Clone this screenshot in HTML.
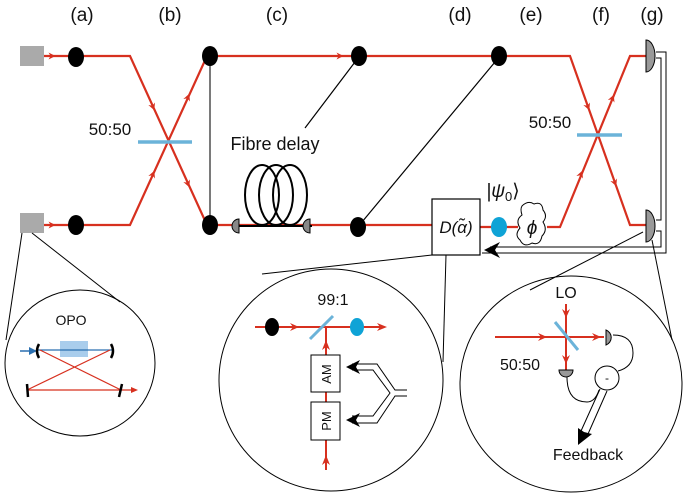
<!DOCTYPE html><html><head><style>body{margin:0;background:#fff}svg{display:block}text{font-family:"Liberation Sans",sans-serif;fill:#111}</style></head><body>
<svg width="685" height="493" viewBox="0 0 685 493" xmlns="http://www.w3.org/2000/svg">
<defs><marker id="ar" viewBox="0 0 10 10" refX="5" refY="5" markerWidth="7" markerHeight="7" orient="auto" markerUnits="userSpaceOnUse"><path d="M0,0 L10,5 L0,10 L3,5z" fill="#d7301f"/></marker></defs>
<g font-size="19" text-anchor="middle"><text x="82" y="21">(a)</text><text x="170" y="21">(b)</text><text x="277" y="21">(c)</text><text x="460" y="21">(d)</text><text x="531" y="21">(e)</text><text x="601" y="21">(f)</text><text x="652" y="21">(g)</text></g>
<rect x="20" y="46" width="24" height="20" fill="#aaa"/><rect x="20" y="213" width="24" height="20" fill="#aaa"/>
<g stroke="#d7301f" stroke-width="2.2" fill="none">
<path d="M44,56 H130 L207,225 H432"/><path d="M44,225 H130 L207,56 H570 L630,225 H646"/>
<path d="M480,227 H518 M547,227 H560 L630,56 H646"/>
</g>
<g stroke="none" fill="none" stroke-width="1">
<path d="M44,56 L52,56" marker-end="url(#ar)"/><path d="M44,225 L52,225" marker-end="url(#ar)"/>
<path d="M151,102 L153,107" marker-end="url(#ar)"/><path d="M186,179 L188,184" marker-end="url(#ar)"/>
<path d="M151,179 L153,174" marker-end="url(#ar)"/><path d="M186,102 L188,97" marker-end="url(#ar)"/>
<path d="M336,56 L340,56" marker-end="url(#ar)"/>
<path d="M586,102 L588,107" marker-end="url(#ar)"/><path d="M613,178 L615,183" marker-end="url(#ar)"/>
<path d="M579,179 L581,174" marker-end="url(#ar)"/><path d="M610.5,103 L612.5,98" marker-end="url(#ar)"/>
</g>
<line x1="138" y1="142" x2="192" y2="142" stroke="#6bb3d9" stroke-width="3.5"/>
<line x1="577" y1="135" x2="622" y2="135" stroke="#6bb3d9" stroke-width="3.5"/>
<text x="110" y="135" font-size="17" text-anchor="middle">50:50</text>
<text x="550" y="128" font-size="17" text-anchor="middle">50:50</text>
<line x1="210" y1="56" x2="210" y2="225" stroke="#333" stroke-width="1.3"/>
<g fill="#000"><ellipse cx="76" cy="57" rx="8" ry="10"/><ellipse cx="76" cy="225" rx="8" ry="10"/><ellipse cx="210" cy="56" rx="8" ry="10"/><ellipse cx="210" cy="225" rx="8" ry="10"/><ellipse cx="359" cy="56" rx="8" ry="10"/><ellipse cx="499" cy="56" rx="8" ry="10"/><ellipse cx="358" cy="227" rx="8" ry="10"/></g>
<line x1="355" y1="62" x2="305" y2="128" stroke="#000" stroke-width="1.2"/>
<line x1="495" y1="62" x2="362" y2="222" stroke="#000" stroke-width="1.2"/>
<text x="275" y="150" font-size="18" text-anchor="middle">Fibre delay</text>
<g fill="none" stroke="#000" stroke-width="2"><ellipse cx="262" cy="195" rx="17" ry="30"/><ellipse cx="276" cy="195" rx="17" ry="30"/><ellipse cx="290" cy="195" rx="17" ry="30"/></g>
<line x1="235" y1="226" x2="312" y2="226" stroke="#000" stroke-width="2"/>
<path d="M239,219 A7,7 0 0 0 239,233 Z" fill="#888" stroke="#000"/><path d="M310,219 A7,7 0 0 0 310,233 Z" fill="#888" stroke="#000"/>
<rect x="432" y="199" width="48" height="56" fill="#fff" stroke="#000" stroke-width="1.2"/>
<text x="456" y="233" font-size="17" font-style="italic" font-family="Liberation Serif" text-anchor="middle">D(α̃)</text>
<ellipse cx="499" cy="227" rx="8" ry="10" fill="#0fa3d6"/>
<path d="M522,206 q6,-6 12,-2 q8,-3 9,6 q5,6 0,12 q5,8 -1,14 q-2,10 -10,7 q-8,5 -12,-3 q-6,-5 0,-12 q-5,-8 2,-13 q-2,-6 0,-9z" fill="#fff" stroke="#000"/>
<text x="532" y="234" font-size="19" font-style="italic" font-family="Liberation Serif" text-anchor="middle">ϕ</text>
<text x="503" y="197" font-size="19" font-style="italic" font-family="Liberation Serif" text-anchor="middle">|ψ<tspan font-size="13" font-style="normal" dy="4">0</tspan><tspan dy="-4" font-style="normal">⟩</tspan></text>
<path d="M646,40 A9,16 0 0 1 646,72 Z M646,210 A9,16 0 0 1 646,242 Z" fill="#999" stroke="#000"/>
<g fill="none" stroke="#000" stroke-width="1"><path d="M656,52 H666 V253 H482"/><path d="M656,58 H661 V220 H656"/><path d="M656,231 H661 V247 H490"/></g>
<path d="M484,250 L500,242 L495,250 L500,258z" fill="#000"/>
<g stroke="#000" stroke-width="1" fill="none">
<line x1="22" y1="233" x2="6" y2="340"/><line x1="32" y1="233" x2="120" y2="302"/>
<line x1="432" y1="255" x2="262" y2="274"/><line x1="446" y1="255" x2="443" y2="362"/>
<line x1="643" y1="232" x2="530" y2="290"/><line x1="652" y1="240" x2="672" y2="340"/>
<ellipse cx="80" cy="363" rx="75" ry="73"/><ellipse cx="331" cy="380" rx="112" ry="111"/><ellipse cx="571" cy="384" rx="111" ry="108"/>
</g>
<text x="71" y="325" font-size="14" text-anchor="middle">OPO</text>
<rect x="60" y="341" width="28" height="16" fill="#a9cdec"/>
<line x1="20" y1="351" x2="34" y2="351" stroke="#2a6fb0" stroke-width="1.5"/>
<path d="M29,347 L37,351 L29,355z" fill="#2a6fb0"/>
<line x1="38" y1="350" x2="112" y2="350" stroke="#2a6fb0" stroke-width="1.3"/>
<g stroke="#d7301f" stroke-width="1.2" fill="none"><path d="M40,350 L121,390 M110,350 L27,390 H136"/></g>
<path d="M131,387 L138,390 L131,393z" fill="#d7301f"/>
<g stroke="#000" stroke-width="2.5" fill="none"><path d="M39,344 q-4,7 0,14"/><path d="M111,344 q4,7 0,14"/><line x1="27" y1="384" x2="28" y2="397"/><line x1="122" y1="384" x2="119" y2="397"/></g>
<text x="333" y="305" font-size="16" text-anchor="middle">99:1</text>
<g stroke="#d7301f" stroke-width="2" fill="none"><path d="M255,327 H384"/><path d="M326,470 V327"/></g>
<g fill="#d7301f"><path d="M290,323 L299,327 L290,331 L293,327z M377,323 L387,327 L377,331 L380,327z M322,350 L326,340 L330,350 L326,347z M322,465 L326,455 L330,465 L326,462z"/></g>
<ellipse cx="272" cy="327" rx="7" ry="9" fill="#000"/><ellipse cx="357" cy="327" rx="7" ry="9" fill="#0fa3d6"/>
<line x1="310" y1="339" x2="333" y2="316" stroke="#6bb3d9" stroke-width="3"/>
<rect x="311" y="355" width="29" height="37" fill="#fff" stroke="#000"/><rect x="311" y="402" width="29" height="38" fill="#fff" stroke="#000"/>
<text transform="translate(331,374) rotate(-90)" font-size="13" text-anchor="middle">AM</text>
<text transform="translate(331,421) rotate(-90)" font-size="13" text-anchor="middle">PM</text>
<g stroke="#000" fill="none" stroke-width="1"><path d="M352,364 H377 L395,390 H407"/><path d="M352,370 H373 L390,393 L373,416 H352"/><path d="M352,423 H377 L395,396 H407"/></g>
<path d="M346,367 L360,360 L356,367 L360,374z M346,420 L360,413 L356,420 L360,427z" fill="#000"/>
<text x="566" y="298" font-size="16" text-anchor="middle">LO</text>
<g stroke="#d7301f" stroke-width="2" fill="none"><path d="M495,337 H604"/><path d="M566,304 V370"/></g>
<g fill="#d7301f"><path d="M538,333 L547,337 L538,341 L541,337z M592,333 L601,337 L592,341 L595,337z M562,309 L566,318 L570,309 L566,312z M562,355 L566,364 L570,355 L566,358z"/></g>
<line x1="555" y1="322" x2="578" y2="350" stroke="#6bb3d9" stroke-width="3"/>
<path d="M606,330 A8,8 0 0 1 606,345 Z M559,370 A7,7 0 0 0 573,370 Z" fill="#999" stroke="#000"/>
<text x="520" y="370" font-size="16" text-anchor="middle">50:50</text>
<g stroke="#000" fill="none" stroke-width="1"><path d="M613,335 q20,0 20,18 q0,14 -15,18"/><path d="M567,377 q0,25 20,25 q8,0 12,-12"/><circle cx="607" cy="378" r="12" fill="#fff"/></g>
<text x="607" y="382" font-size="12" text-anchor="middle">-</text>
<path d="M600,389 L581,431 M607,391 L588,434" stroke="#000" fill="none"/>
<path d="M578,445 L578,428 L584,432 L592,434z" fill="#000"/>
<text x="588" y="460" font-size="16" text-anchor="middle">Feedback</text>
</svg></body></html>
